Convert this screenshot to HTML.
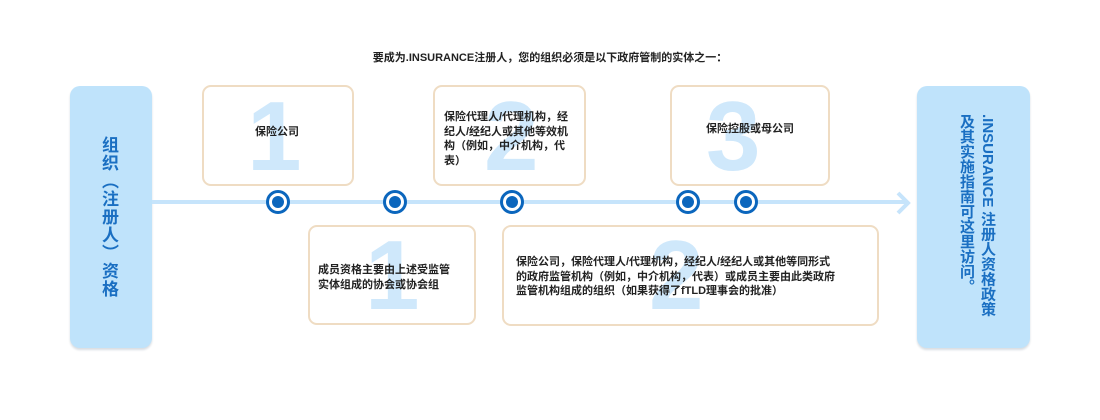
<!DOCTYPE html>
<html><head><meta charset="utf-8"><style>
body{margin:0;width:1100px;height:420px;background:#fff;position:relative;overflow:hidden;font-family:"Liberation Sans","Noto Sans CJK SC",sans-serif;}
.a{position:absolute}
.title{left:0;width:1100px;top:49px;text-align:center;font-size:11px;font-weight:bold;color:#222;}
.panel{background:#bfe3fb;border-radius:10px;box-shadow:0 2px 2px #d8dde2;}
.box{border:2px solid #efdcc3;border-radius:9px;background:#fff;box-sizing:border-box;}
.num{color:#cfe8fb;font-weight:bold;font-size:98px;line-height:100px;font-family:"Liberation Sans",sans-serif;}
.t{font-size:11px;font-weight:bold;color:#222;line-height:14.5px;text-align:left;}
.c{width:18px;height:18px;border:3px solid #0b66bd;border-radius:50%;background:#fff;}
.c::after{content:"";position:absolute;left:3px;top:3px;width:12px;height:12px;border-radius:50%;background:#0b66bd;}
.v{writing-mode:vertical-rl;font-weight:bold;color:#1a6fc2;}
</style></head><body>
<div class="a title">要成为.INSURANCE注册人，您的组织必须是以下政府管制的实体之一：</div>
<div class="a panel" style="left:70px;top:86px;width:82px;height:262px"></div>
<div class="a v" style="left:96px;top:136px;font-size:17px;line-height:24px;letter-spacing:1px">组织（注册人）资格</div>
<div class="a panel" style="left:917px;top:86px;width:113px;height:262px"></div>
<div class="a v" style="left:956px;top:114px;font-size:15px;line-height:21px">.INSURANCE 注册人资格政策<br>及其实施指南可这里访问。</div>
<div class="a" style="left:152px;top:200px;width:754px;height:4px;background:#c6e4fb"></div>
<svg class="a" style="left:894px;top:190px" width="20" height="26"><polyline points="4,3 14,13 4,23" fill="none" stroke="#c6e4fb" stroke-width="4"/></svg>
<div class="a box" style="left:202px;top:85px;width:152px;height:101px"></div>
<div class="a num" style="left:247px;top:86px">1</div>
<div class="a t" style="left:255px;top:125px">保险公司</div>
<div class="a box" style="left:433px;top:85px;width:153px;height:101px"></div>
<div class="a num" style="left:484px;top:86px">2</div>
<div class="a t" style="left:444px;top:110px;width:128px">保险代理人/代理机构，经纪人/经纪人或其他等效机构（例如，中介机构，代表）</div>
<div class="a box" style="left:670px;top:85px;width:160px;height:101px"></div>
<div class="a num" style="left:706px;top:86px">3</div>
<div class="a t" style="left:706px;top:122px">保险控股或母公司</div>
<div class="a box" style="left:308px;top:225px;width:168px;height:100px"></div>
<div class="a num" style="left:365px;top:225px">1</div>
<div class="a t" style="left:318px;top:263px">成员资格主要由上述受监管<br>实体组成的协会或协会组</div>
<div class="a box" style="left:502px;top:225px;width:377px;height:101px"></div>
<div class="a num" style="left:649px;top:225px">2</div>
<div class="a t" style="left:516px;top:255px;width:340px">保险公司，保险代理人/代理机构，经纪人/经纪人或其他等同形式<br>的政府监管机构（例如，中介机构，代表）或成员主要由此类政府<br>监管机构组成的组织（如果获得了fTLD理事会的批准）</div>
<div class="a c" style="left:266px;top:190px"></div>
<div class="a c" style="left:383px;top:190px"></div>
<div class="a c" style="left:500px;top:190px"></div>
<div class="a c" style="left:676px;top:190px"></div>
<div class="a c" style="left:734px;top:190px"></div>
</body></html>
